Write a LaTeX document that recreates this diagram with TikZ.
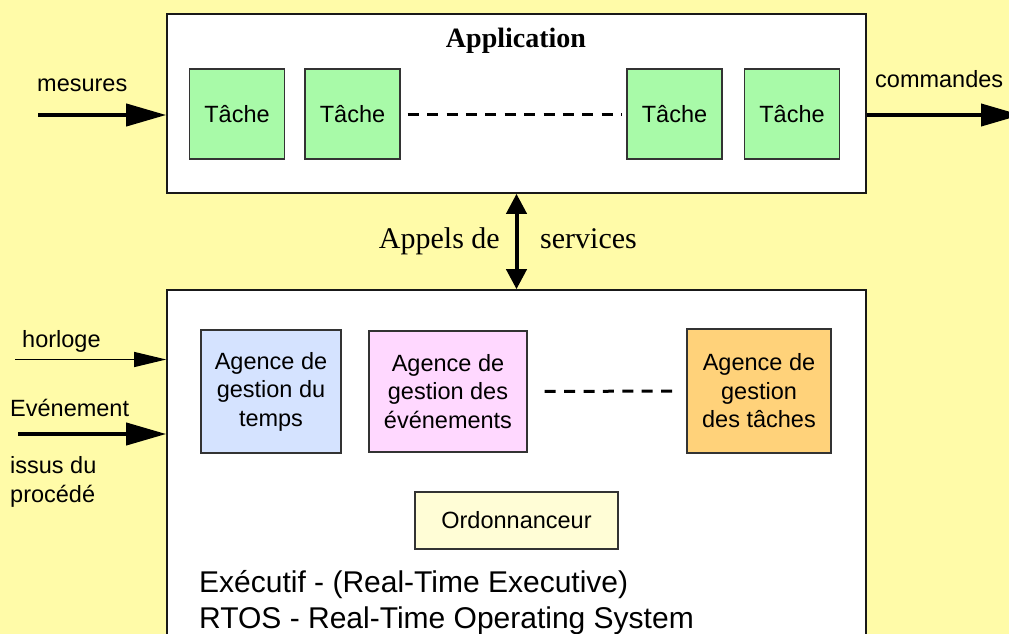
\documentclass[tikz,border=0pt]{standalone}
\usepackage{fontspec}
\setmainfont{Liberation Serif}
\setsansfont{Liberation Sans}
\usetikzlibrary{arrows.meta}
\definecolor{bgyellow}{RGB}{255,251,168}
\definecolor{taskgreen}{RGB}{168,250,168}
\definecolor{agblue}{RGB}{213,227,255}
\definecolor{agpink}{RGB}{255,216,255}
\definecolor{agorange}{RGB}{255,210,122}
\definecolor{ordyellow}{RGB}{255,253,214}
\begin{document}
\begin{tikzpicture}[x=1pt,y=-1pt,
  bigbox/.style={draw=black!90, line width=1.6pt, fill=white, inner sep=0pt},
  inbox/.style={draw=black!80, line width=1.4pt, inner sep=0pt, align=center,
    font=\sffamily\fontsize{23.5}{28.5}\selectfont},
  tache/.style={inbox, fill=taskgreen, minimum width=95pt, minimum height=90pt},
  lbl/.style={inner sep=0pt, font=\sffamily\fontsize{23.5}{28}\selectfont},
  biglbl/.style={inner sep=0pt, font=\sffamily\fontsize{30}{36}\selectfont},
  serlbl/.style={inner sep=0pt, font=\rmfamily\fontsize{30}{36}\selectfont},
  thickarrow/.style={line width=4pt, -{Triangle[length=40pt,width=22pt]}},
  thinarrow/.style={line width=1.2pt, -{Triangle[length=32pt,width=15pt]}},
  dblarrow/.style={line width=4pt, {Triangle[length=20pt,width=20pt]}-{Triangle[length=20pt,width=20pt]}},
  dashline/.style={line width=3pt, dash pattern=on 11pt off 8.4pt}
]
\fill[bgyellow] (0,0) rectangle (1009,634);
\useasboundingbox (0,0) rectangle (1009,634);

% Application box
\node[bigbox, minimum width=699pt, minimum height=179pt] (app) at (516.5,103.5) {};
\node[inner sep=0pt, anchor=base, font=\rmfamily\bfseries\fontsize{28}{34}\selectfont] (apptitle) at (516,48) {Application};
\node[tache] (t1) at (237,114) {Tâche};
\node[tache] (t2) at (352.5,114) {Tâche};
\node[tache] (t3) at (674.5,114) {Tâche};
\node[tache] (t4) at (792,114) {Tâche};
\draw[dashline, shorten <=7pt, shorten >=4pt] (t2.east) -- (t3.west);

% RTOS box
\node[bigbox, minimum width=699pt, minimum height=380pt] (rtos) at (516.5,480) {};
\node[inbox, fill=agblue, minimum width=140pt, minimum height=123pt] (agtemps) at (271,391.5) {Agence de\\gestion du\\temps};
\node[inbox, fill=agpink, minimum width=158pt, minimum height=121pt] (agev) at (448,391.5) {Agence de\\gestion des\\événements};
\node[inbox, fill=agorange, minimum width=144pt, minimum height=124pt] (agtache) at (759,391) {Agence de\\gestion\\des tâches};
\draw[dashline, shorten <=17pt, shorten >=10pt] (agev.east) -- (agtache.west);
\node[inbox, fill=ordyellow, minimum width=203pt, minimum height=57pt] (ord) at (516.5,520.5) {Ordonnanceur};
\node[biglbl, anchor=base west] (exec1) at (199,592) {Exécutif - (Real-Time Executive)};
\node[biglbl, anchor=base west] (exec2) at (199,628) {RTOS - Real-Time Operating System};

% Appels de services
\draw[dblarrow] (app.south) -- (rtos.north);
\node[serlbl, anchor=base east] (appels) at (500,248) {Appels de};
\node[serlbl, anchor=base west] (services) at (540,248) {services};

% inputs / outputs
\node[lbl, anchor=base west] (mesures) at (37,92) {mesures};
\coordinate (mesin) at (38,115);
\draw[thickarrow] (mesin) -- (app.west |- mesin);

\node[lbl, anchor=base west] (commandes) at (875,88) {commandes};
\coordinate (cmdout) at (1021,115);
\draw[thickarrow] (app.east |- cmdout) -- (cmdout);

\node[lbl, anchor=base west] (horloge) at (22,347) {horloge};
\coordinate (horin) at (15,359.5);
\draw[thinarrow] (horin) -- (rtos.west |- horin);

\node[lbl, anchor=base west] (evt) at (10,416) {Evénement};
\coordinate (evin) at (18,434);
\draw[thickarrow] (evin) -- (rtos.west |- evin);
\node[lbl, anchor=base west] (issus1) at (10,473) {issus du};
\node[lbl, anchor=base west] (issus2) at (10,502) {procédé};
\end{tikzpicture}
\end{document}
